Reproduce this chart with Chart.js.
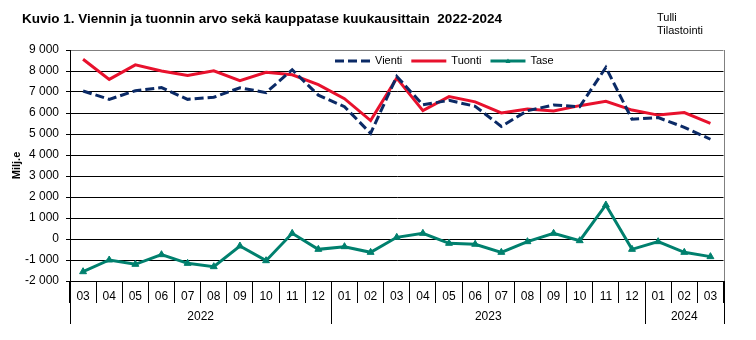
<!DOCTYPE html>
<html>
<head>
<meta charset="utf-8">
<script src="https://cdn.jsdelivr.net/npm/chart.js@4"></script>
<style>
html,body{margin:0;padding:0;background:#fff;}
#wrap{width:756px;height:340px;}
</style>
</head>
<body>
<div id="wrap"><canvas id="c" width="756" height="340"></canvas></div>
<script>
const titleText = 'Kuvio 1. Viennin ja tuonnin arvo sekä kauppatase kuukausittain  2022-2024';
const sourceLines = ['Tulli', 'Tilastointi'];
const yAxisTitle = 'Milj.e';
const months = ['03','04','05','06','07','08','09','10','11','12',
                '01','02','03','04','05','06','07','08','09','10','11','12',
                '01','02','03'];
const yearLabels = ['2022', '2023', '2024'];
const yearSpans = [10, 12, 3];
const seriesNames = ['Vienti', 'Tuonti', 'Tase'];
const vienti = [7050, 6650, 7060, 7210, 6650, 6750, 7200, 6970, 8060, 6850,
                6300, 5030, 7740, 6390, 6600, 6320, 5360, 6110, 6380, 6300, 8170, 5700,
                5780, 5320, 4750];
const tuonti = [8560, 7600, 8290, 8000, 7790, 8010, 7540, 7940, 7820, 7350,
                6680, 5640, 7660, 6110, 6780, 6530, 6000, 6190, 6100, 6350, 6560, 6140,
                5900, 6020, 5510];
const tase = [-1557, -1000, -1206, -746, -1160, -1317, -333, -1032, 270, -492,
              -365, -635, 80, 270, -205, -250, -635, -127, 270, -80, 1620, -492,
              -127, -635, -840];
const yMin = -2000, yMax = 9000, yStep = 1000;

const FONT = 'Arial, "Liberation Sans", sans-serif';
const NAVY = '#0b2a66', RED = '#e8112d', TEAL = '#00806e';

function fmt(v){
  const s = String(Math.abs(v)).replace(/\B(?=(\d{3})+(?!\d))/g, ' ');
  return (v < 0 ? '-' : '') + s;
}

const deco = {
  id: 'deco',
  afterDraw(chart){
    const {ctx, chartArea: ca, scales: {x}} = chart;
    ctx.save();
    // plot-area right border
    ctx.strokeStyle = '#808080'; ctx.lineWidth = 1;
    ctx.beginPath(); ctx.moveTo(Math.round(ca.right)+0.5, ca.top); ctx.lineTo(Math.round(ca.right)+0.5, ca.bottom); ctx.stroke();
    // year separators and labels
    const w = x.getPixelForValue(1) - x.getPixelForValue(0);
    const edge = k => k < months.length ? x.getPixelForValue(k) - w/2 : x.getPixelForValue(months.length-1) + w/2;
    ctx.strokeStyle = '#000';
    let start = 0;
    const bounds = [0];
    yearSpans.forEach(s => { start += s; bounds.push(start); });
    bounds.forEach(k => {
      const px = Math.round(edge(k)) + 0.5;
      ctx.beginPath(); ctx.moveTo(px, ca.bottom); ctx.lineTo(px, ca.bottom + 43); ctx.stroke();
    });
    ctx.fillStyle = '#000';
    ctx.font = '12px ' + FONT;
    ctx.textAlign = 'center'; ctx.textBaseline = 'middle';
    yearLabels.forEach((lab, i) => {
      const cx = (edge(bounds[i]) + edge(bounds[i+1])) / 2;
      ctx.fillText(lab, cx, ca.bottom + 36);
    });
    // title
    ctx.textAlign = 'left';
    ctx.font = 'bold 13.5px ' + FONT;
    ctx.fillText(titleText, 22, 19);
    ctx.font = '11px ' + FONT;
    sourceLines.forEach((t, i) => ctx.fillText(t, 657, 18 + i*13));
    // legend
    ctx.font = '11px ' + FONT;
    let lx = 335;
    const ly = 61;
    chart.data.datasets.forEach(ds => {
      ctx.save();
      ctx.strokeStyle = ds.borderColor; ctx.lineWidth = 3;
      ctx.setLineDash(ds.borderDash || []);
      ctx.beginPath(); ctx.moveTo(lx, ly); ctx.lineTo(lx + 35, ly); ctx.stroke();
      ctx.restore();
      if (ds.pointRadius > 0) {
        ctx.fillStyle = ds.borderColor;
        ctx.beginPath();
        ctx.moveTo(lx + 17.5, ly - 2.5); ctx.lineTo(lx + 20, ly + 2); ctx.lineTo(lx + 15, ly + 2); ctx.closePath(); ctx.fill();
      }
      ctx.fillStyle = '#000';
      ctx.fillText(ds.label, lx + 40, ly);
      lx += 40 + ctx.measureText(ds.label).width + 9;
    });
    ctx.restore();
  }
};

new Chart(document.getElementById('c'), {
  type: 'line',
  data: {
    labels: months,
    datasets: [
      {label: seriesNames[0], data: vienti, borderColor: NAVY, backgroundColor: NAVY, borderWidth: 3, borderDash: [9, 4], pointRadius: 0, tension: 0},
      {label: seriesNames[1], data: tuonti, borderColor: RED, backgroundColor: RED, borderWidth: 3, pointRadius: 0, tension: 0},
      {label: seriesNames[2], data: tase, borderColor: TEAL, backgroundColor: TEAL, borderWidth: 3, pointRadius: 4, pointStyle: 'triangle', pointBackgroundColor: TEAL, pointBorderColor: TEAL, pointBorderWidth: 1, tension: 0}
    ]
  },
  options: {
    responsive: false,
    animation: false,
    layout: {padding: {top: 50, right: 32.5, left: 0, bottom: 0}},
    plugins: {legend: {display: false}, title: {display: false}, tooltip: {enabled: false}},
    scales: {
      x: {
        type: 'category',
        offset: true,
        grid: {drawOnChartArea: false, drawTicks: true, tickLength: 22, color: '#000', tickColor: '#000', offset: true, lineWidth: 1},
        border: {color: '#000', width: 1},
        ticks: {color: '#000', font: {family: FONT, size: 12}, padding: -14, maxRotation: 0, autoSkip: false},
        afterFit(s){ s.height = 59; }
      },
      y: {
        min: yMin, max: yMax,
        grid: {color: c => (c.tick && c.tick.value === yMax) ? '#808080' : '#000', tickColor: '#000', tickLength: 4, lineWidth: 1},
        border: {color: '#000', width: 1},
        ticks: {stepSize: yStep, color: '#000', font: {family: FONT, size: 12}, padding: 7, callback: v => fmt(v)},
        title: {display: true, text: yAxisTitle, color: '#000', font: {family: FONT, size: 11, weight: 'bold'}, padding: {top: 10}},
        afterFit(s){ s.width = 70; }
      }
    }
  },
  plugins: [deco]
});
</script>
</body>
</html>
